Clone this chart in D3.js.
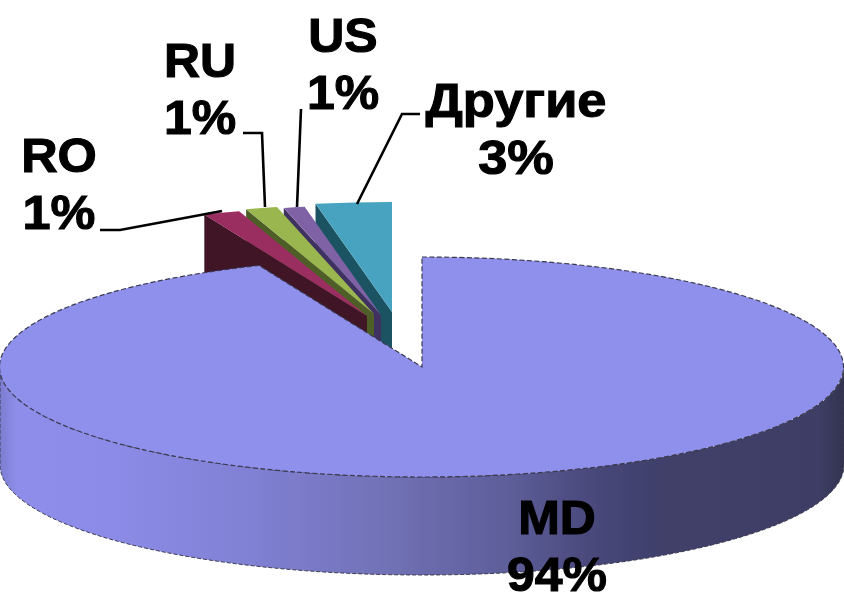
<!DOCTYPE html>
<html><head><meta charset="utf-8">
<script src="https://cdnjs.cloudflare.com/ajax/libs/d3/7.8.5/d3.min.js"></script>
<style>html,body{margin:0;padding:0;background:#fff;overflow:hidden}svg{display:block}
text{font-family:"Liberation Sans",Arial,sans-serif;font-weight:700;fill:#000;stroke:#000;stroke-width:1.1px;text-anchor:middle}</style>
</head><body><svg id="c" width="844" height="595"></svg>
<script>
// Data
const categories = ["MD", "RO", "RU", "US", "Другие"];
const seriesValues = [93.7, 1.4, 1.2, 0.8, 2.9];
const shownLabels = ["94%", "1%", "1%", "1%", "3%"];

// Styling / layout
const topColors = ["#8f8fec", "#9a2f60", "#9ab650", "#7f62a6", "#46a3bf"];
const wallColors = ["#8f8fec", "#3f1228", "#4e5e28", "#3f3060", "#1e5363"];
const explode = [[0,0],[-55,-51],[-48,-53],[-41,-52],[-30,-55]];
const labelPos = [[557,534],[59,172],[200,77],[343,52],[516,117]];
const labelStretch = [1.02, 1.03, 1.02, 1.02, 1.07];
const leaders = [null,
  [[100,230],[120,230],[222,211]],
  [[243,133],[262,133],[265,207]],
  [[301,109],[297,207]],
  [[420,114],[402,114],[357,204]]];
const cx = 422, cy = 367, rx = 422, ry = 110, depth = 98, lineGap = 57;

const svg = d3.select("#c");
const defs = svg.append("defs");
const grad = defs.append("linearGradient").attr("id","side")
  .attr("gradientUnits","userSpaceOnUse").attr("x1",0).attr("x2",844).attr("y1",0).attr("y2",0);
[[0,"#7c7cd0"],[.02,"#8e8eea"],[.13,"#8c8ce8"],[.3,"#8080d4"],[.45,"#7272b8"],[.6,"#5e5e9a"],[.72,"#454576"],[.8,"#3f3f68"],[.97,"#3e3e66"],[1,"#33334f"]]
  .forEach(([o,c])=>grad.append("stop").attr("offset",o).attr("stop-color",c));
defs.append("filter").attr("id","soft").append("feGaussianBlur").attr("stdDeviation",.6);

const pie = d3.pie().sort(null).startAngle(0).endAngle(2*Math.PI);
const arcs = pie(seriesValues);
const px = d3.scaleLinear().domain([-1,1]).range([cx-rx,cx+rx]);
const py = d3.scaleLinear().domain([-1,1]).range([cy-ry,cy+ry]);
const pt = a => [px(Math.sin(a)), py(-Math.cos(a))];
const line = d3.line();
const unit = d3.arc().innerRadius(0).outerRadius(1);

const g = svg.append("g").attr("filter","url(#soft)");

// Exploded small slices, back to front
[4,3,2,1].forEach(i=>{
  const a = arcs[i], [dx,dy] = explode[i];
  const s = g.append("g").attr("transform",`translate(${dx},${dy})`);
  const p = pt(a.startAngle), c = [cx,cy];
  s.append("path").attr("fill",wallColors[i])
    .attr("d",line([p,c,[c[0],c[1]+depth],[p[0],p[1]+depth]])+"Z");
  s.append("path").attr("fill",topColors[i])
    .attr("transform",`translate(${cx},${cy}) scale(${rx},${ry})`)
    .attr("d",unit(a));
});

// Main slice: front wall then top
const md = arcs[0];
const rim = d3.range(Math.PI/2, 3*Math.PI/2+.001, Math.PI/180).map(pt);
const rimB = rim.map(([x,y])=>[x,y+depth]).reverse();
g.append("path").attr("fill","url(#side)").attr("stroke","#3a3a50").attr("stroke-width",1)
  .attr("stroke-dasharray","4 2")
  .attr("d",line(rim.concat(rimB))+"Z");
g.append("path").attr("fill",topColors[0]).attr("stroke","#3a3a50").attr("stroke-width",1.2)
  .attr("stroke-dasharray","5 2.5")
  .attr("vector-effect","non-scaling-stroke")
  .attr("transform",`translate(${cx},${cy}) scale(${rx},${ry})`)
  .attr("d",unit(md));

// Leader lines
leaders.forEach(l=>{ if(l) svg.append("path").attr("fill","none").attr("stroke","#000").attr("stroke-width",2.6).attr("d",line(l)); });

// Labels
categories.forEach((c,i)=>{
  const [x,y] = labelPos[i], k = labelStretch[i];
  const t = svg.append("g").attr("transform",`translate(${x},${y}) scale(${k},1)`);
  t.append("text").attr("font-size",49).text(c);
  t.append("text").attr("y",lineGap).attr("font-size",49).text(shownLabels[i]);
});
</script></body></html>
